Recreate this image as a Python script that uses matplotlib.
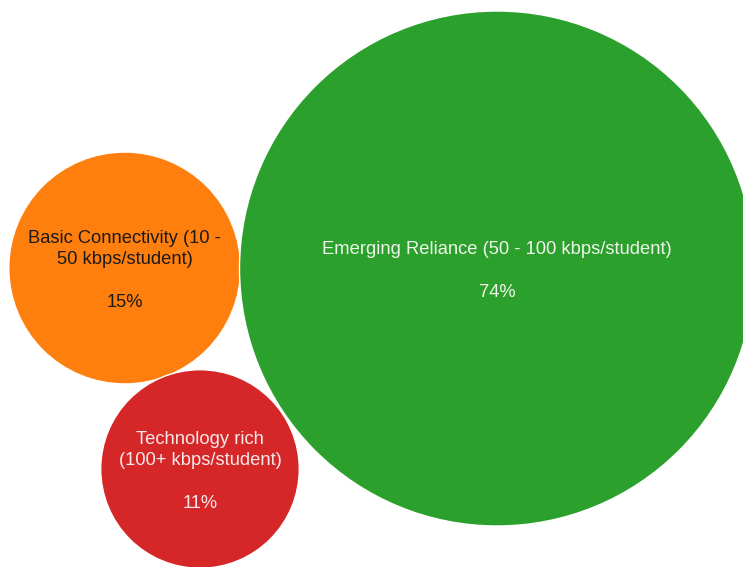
import numpy as np
import matplotlib.pyplot as plt
from matplotlib.patches import Circle

plt.rcParams['font.family'] = ['Liberation Sans', 'DejaVu Sans']

# bandwidth tiers, share of schools
labels = ['Basic Connectivity (10 -\n50 kbps/student)',
          'Technology rich\n(100+ kbps/student)',
          'Emerging Reliance (50 - 100 kbps/student)']
shares = [15, 11, 74]
# bubble centres (layout units)
bx = [124.7, 200, 497]
by = [268, 469, 268.5]

colors = ['#ff7f0e', '#d62728', '#2ca02c']
text_colors = ['#1a1a1a', '#f4e8e8', '#eef5ea']

scale = 257.5 / np.sqrt(74)

fig = plt.figure(figsize=(7.43, 5.67), dpi=100)
ax = fig.add_axes([0, 0, 1, 1])
ax.set_xlim(0, 743)
ax.set_ylim(567, 0)
ax.set_aspect('equal')
ax.axis('off')

for lab, s, x, y, c, tc in zip(labels, shares, bx, by, colors, text_colors):
    r = scale * np.sqrt(s)
    ax.add_patch(Circle((x, y), r, facecolor=c, edgecolor='white', lw=1.0))
    ax.text(x, y + 2.5, f'{lab}\n\n{s}%', ha='center', va='center',
            fontsize=13.2, color=tc, linespacing=1.32, multialignment='center')

fig.savefig('out.png', dpi=100, facecolor='white')
